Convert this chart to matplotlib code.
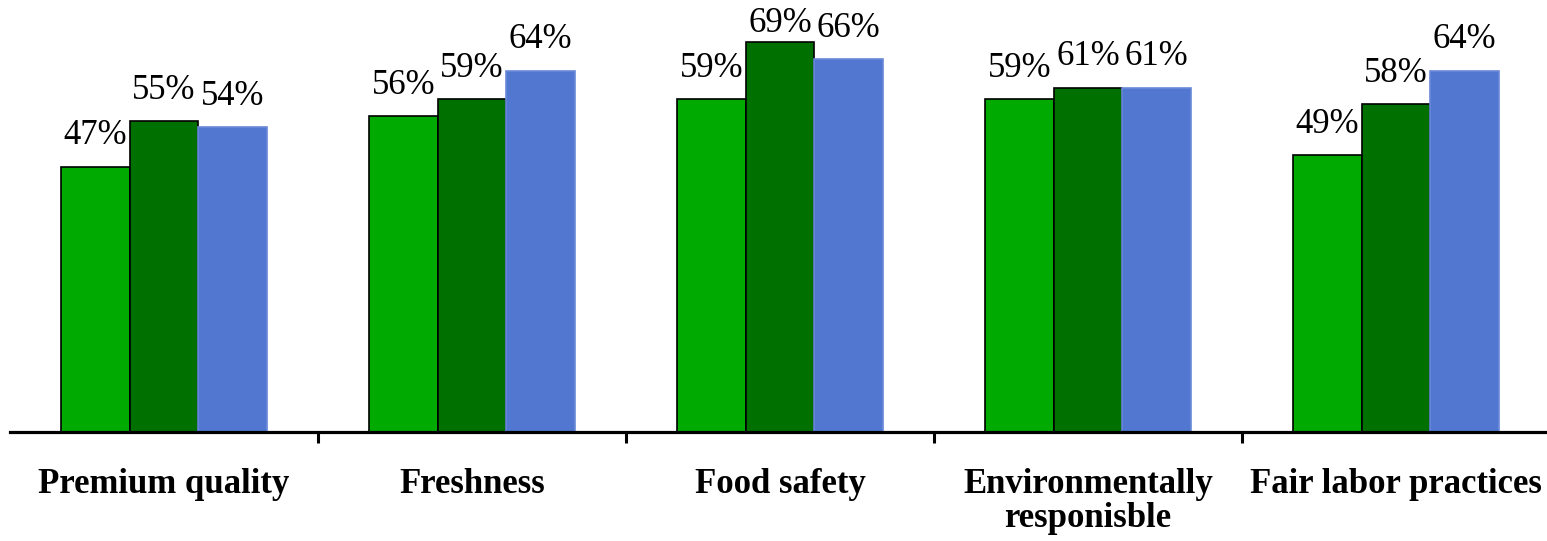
import numpy as np
import matplotlib
matplotlib.use("Agg")
import matplotlib.pyplot as plt

categories = ["Premium quality", "Freshness", "Food safety",
              "Environmentally\nresponisble", "Fair labor practices"]
series_a = [47, 56, 59, 59, 49]
series_b = [55, 59, 69, 61, 58]
series_c = [54, 64, 66, 61, 64]

colors = ["#00AA00", "#007000", "#5177D0"]
edges = ["black", "black", "#6A8AD8"]

fig = plt.figure(figsize=(15.47, 5.41), dpi=100)
ax = fig.add_axes([10 / 1547, 109 / 541, 1540 / 1547, 432 / 541])

ymax = 76.5
x = np.arange(len(categories))
w = 0.223
for i, (vals, c, ec) in enumerate(zip([series_a, series_b, series_c], colors, edges)):
    pos = x + (i - 1) * w
    ax.bar(pos, vals, width=w, color=c, edgecolor=ec, linewidth=1.2, zorder=2)
    for px, v in zip(pos, vals):
        # keep the tallest labels inside the top edge
        ty = min(v + 2.5, ymax - 7.0)
        ax.text(px, ty, f"{v}%", ha="center", va="bottom",
                family="Liberation Serif", fontsize=25, color="black")

ax.set_xlim(-0.5, len(categories) - 0.5)
ax.set_ylim(0, ymax)

for s in ["left", "top", "right"]:
    ax.spines[s].set_visible(False)
ax.spines["bottom"].set_linewidth(2.3)
ax.set_yticks([])

# boundary ticks between groups, labels centred under each group
ax.set_xticks(np.arange(0.5, len(categories) - 0.5, 1.0))
ax.set_xticklabels([])
ax.tick_params(axis="x", which="major", length=8, width=2.2, direction="out")
ax.set_xticks(x, minor=True)
ax.set_xticklabels(categories, minor=True, family="Liberation Serif",
                   fontweight="bold", fontsize=25, linespacing=1.05)
ax.tick_params(axis="x", which="minor", length=0, pad=26)

fig.savefig("out.png", dpi=100)
